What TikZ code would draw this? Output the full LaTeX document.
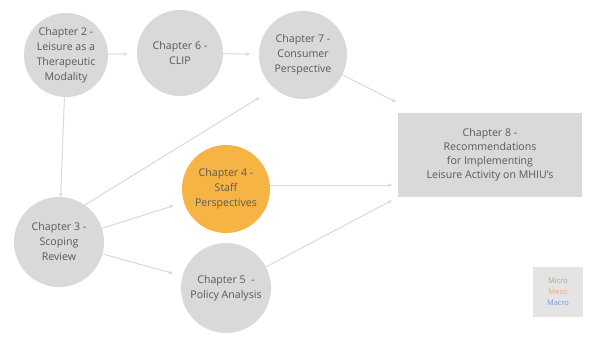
\documentclass[tikz,border=0pt]{standalone}
\usepackage{fontspec}
\setmainfont{Open Sans}
\usetikzlibrary{arrows.meta}
\definecolor{chapgrey}{HTML}{D9D9D9}
\definecolor{chaporange}{HTML}{F6B445}
\definecolor{txtgrey}{HTML}{595959}
\definecolor{linkgrey}{HTML}{DADADA}
\definecolor{keybg}{HTML}{E4E4E4}
\definecolor{microc}{HTML}{8DB878}
\definecolor{mesoc}{HTML}{F2A866}
\definecolor{macroc}{HTML}{7596E2}
\begin{document}
\begin{tikzpicture}[x=1pt,y=-1pt,
  chap/.style={circle,fill=chapgrey,minimum size=#1,inner sep=0pt,
    align=center,text=txtgrey,font=\fontsize{10.6}{15}\selectfont},
  chap/.default=88pt,
  recbox/.style={rectangle,fill=chapgrey,minimum width=184pt,minimum height=84pt,
    align=center,text=txtgrey,font=\fontsize{10.6}{14}\selectfont},
  link/.style={draw=linkgrey,line width=1pt,-{Stealth[length=4pt,width=4pt]}},
  keytext/.style={font=\fontsize{7.5}{9}\selectfont,inner sep=0pt}]
\useasboundingbox (0,0) rectangle (596,363);
\fill[white] (0,0) rectangle (596,363);

% chapter circles
\node[chap=84pt] (ch2) at (66,55) {Chapter 2 -\\Leisure as a\\Therapeutic\\Modality};
\node[chap=86pt] (ch6) at (180,53) {Chapter 6 -\\CLIP};
\node[chap=88pt] (ch7) at (303,55) {Chapter 7 -\\Consumer\\Perspective};
\node[chap=88pt,fill=chaporange] (ch4) at (226,189) {Chapter 4 -\\Staff\\Perspectives};
\node[chap=90pt] (ch3) at (59,242) {Chapter 3 -\\Scoping\\Review};
\node[chap=90pt] (ch5) at (226,288) {Chapter 5 \ -\\Policy Analysis};

% recommendations box
\node[recbox] (ch8) at (490,155) {Chapter 8 -\\Recommendations\\for Implementing\\Leisure Activity on MHIU's};

% key
\node[rectangle,fill=keybg,minimum width=50pt,minimum height=50pt] (key) at (558,292) {};
\node[keytext,text=microc] (kmicro) at (558,281) {Micro};
\node[keytext,text=mesoc] (kmeso) at (558,292) {Meso};
\node[keytext,text=macroc] (kmacro) at (558,303) {Macro};

% connectors
\draw[link,shorten >=9pt] (ch2) -- (ch6);
\draw[link,shorten >=9pt] (ch6) -- (ch7);
\draw[link] (ch2) -- (ch3);
\draw[link,shorten >=17pt] (ch3.55) -- (ch7.229);
\draw[link,shorten >=11pt] (ch3) -- (ch4);
\draw[link,shorten >=10pt] (ch3) -- (ch5);
\draw[link,shorten >=2pt] (ch7) -- ([yshift=10pt]ch8.north west);
\draw[link,shorten >=6pt] (ch4.5) -- (ch8.west |- ch4.5);
\draw[link,shorten >=7pt] (ch5) -- (ch8.south west);
\end{tikzpicture}
\end{document}
